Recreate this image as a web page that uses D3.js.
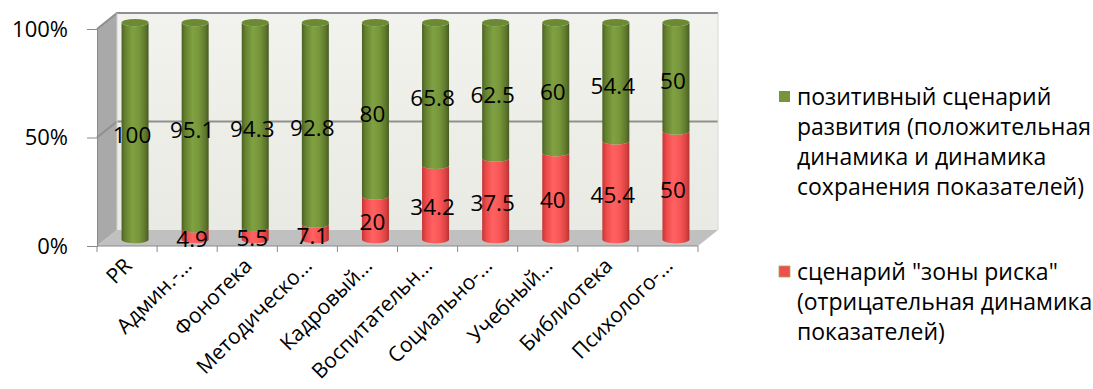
<!DOCTYPE html>
<html><head><meta charset="utf-8">
<script src="https://cdn.jsdelivr.net/npm/d3@7"></script>
<style>body{margin:0;background:#fff}svg{display:block}text{font-family:"Open Sans",sans-serif}</style>
</head><body><svg id="c" width="1093" height="389"></svg>
<script>
const categories = ["PR","Админ.-…","Фонотека","Методическо…","Кадровый…","Воспитательн…","Социально-…","Учебный…","Библиотека","Психолого-…"];
const positive = [100,95.1,94.3,92.8,80,65.8,62.5,60,54.4,50];
const risk = [0,4.9,5.5,7.1,20,34.2,37.5,40,45.4,50];
const yTicks = [0,50,100];
const seriesNames = ['позитивный сценарий развития (положительная динамика и динамика сохранения показателей)','сценарий "зоны риска" (отрицательная динамика показателей)'];
const legendLines = [["позитивный сценарий","развития (положительная","динамика и динамика","сохранения показателей)"],["сценарий \"зоны риска\"","(отрицательная динамика","показателей)"]];

const svg = d3.select("#c");
const defs = svg.append("defs");
const X0=97, X1=698, Y0=246, Y100=29, DX=20, DY=-16;
const x = d3.scaleBand().domain(categories).range([X0,X1]).paddingInner(0).paddingOuter(0);
const y = d3.scaleLinear().domain([0,100]).range([Y0,Y100]);

function hgrad(id, stops){
  const g=defs.append("linearGradient").attr("id",id).attr("x1","0%").attr("x2","100%").attr("y1","0%").attr("y2","0%");
  stops.forEach(s=>g.append("stop").attr("offset",s[0]).attr("stop-color",s[1]));
}
hgrad("gG",[["0%","#4B6024"],["12%","#637F2E"],["40%","#80A142"],["65%","#77963A"],["88%","#5D772C"],["100%","#475B22"]]);
hgrad("gR",[["0%","#C23636"],["15%","#EE4A4A"],["40%","#FF6262"],["65%","#F85656"],["88%","#DA4242"],["100%","#B83030"]]);
const wg=defs.append("linearGradient").attr("id","wall").attr("x1","0").attr("x2","0").attr("y1","0").attr("y2","1");
wg.append("stop").attr("offset","0%").attr("stop-color","#F2F2EE");
wg.append("stop").attr("offset","100%").attr("stop-color","#EAEAE4");

const P=(a)=>a.map(p=>p.join(",")).join(" ");
svg.append("polygon").attr("points",P([[X0+DX,Y100+DY],[X1+DX,Y100+DY],[X1+DX,Y0+DY],[X0+DX,Y0+DY]])).attr("fill","url(#wall)");
svg.append("polygon").attr("points",P([[X0,Y100],[X0+DX,Y100+DY],[X0+DX,Y0+DY],[X0,Y0]])).attr("fill","#A9A9A9");
svg.append("polygon").attr("points",P([[X0,Y0],[X1,Y0],[X1+DX,Y0+DY],[X0+DX,Y0+DY]])).attr("fill","#C0C0C0");
yTicks.forEach(t=>{
  if(t===0) return;
  svg.append("polyline").attr("points",P([[X0,y(t)],[X0+DX,y(t)+DY],[X1+DX,y(t)+DY]]))
    .attr("fill","none").attr("stroke","#8F8F8F").attr("stroke-width",2);
});
svg.append("line").attr("x1",X1+DX).attr("x2",X1+DX).attr("y1",Y100+DY).attr("y2",Y0+DY).attr("stroke","#D8D8D8");
svg.append("line").attr("x1",X0+DX).attr("x2",X0+DX).attr("y1",Y100+DY).attr("y2",Y0+DY).attr("stroke","#D0D0D0");

const yAxis = d3.axisLeft(y).tickValues(yTicks).tickFormat(d=>d+"%").tickSize(10).tickPadding(19);
const ya = svg.append("g").attr("transform",`translate(${X0},0)`).call(yAxis);
ya.select(".domain").attr("stroke","#8A8A8A");
ya.selectAll(".tick line").attr("stroke","#8A8A8A");
ya.selectAll("text").attr("font-size",22).attr("fill","#000").attr("font-family","Open Sans");

const xa = svg.append("g").attr("transform",`translate(0,${Y0})`);
xa.append("line").attr("x1",X0).attr("x2",X1).attr("stroke","#8A8A8A");
const bounds = categories.map(c=>x(c)).concat([X1]);
xa.selectAll("line.tk").data(bounds).enter().append("line").attr("class","tk")
  .attr("x1",d=>d).attr("x2",d=>d).attr("y1",0).attr("y2",6).attr("stroke","#8A8A8A");
xa.selectAll("text").data(categories).enter().append("text")
  .attr("transform",d=>`translate(${x(d)+x.bandwidth()/2+6},${21}) rotate(-45)`)
  .attr("text-anchor","end").attr("font-size",21).attr("fill","#000").text(d=>d);

const F=0.4, R=13.5, RY=3.6;
const cxOf=c=>x(c)+x.bandwidth()/2+DX*F;
const yOf=v=>y(v)+DY*F;
function seg(cx,yt,yb){
  return `M${cx-R},${yt} L${cx-R},${yb} A${R},${RY} 0 0 0 ${cx+R},${yb} L${cx+R},${yt} A${R},${RY} 0 0 1 ${cx-R},${yt} Z`;
}
const gBars = svg.append("g");
categories.forEach((c,i)=>{
  const tot = positive[i]+risk[i];
  const r = risk[i]/tot*100;
  const cx = cxOf(c);
  if(risk[i]>0){
    gBars.append("path").attr("d",seg(cx,yOf(r),yOf(0))).attr("fill","url(#gR)");
  }
  gBars.append("path").attr("d",seg(cx,yOf(100),yOf(r))).attr("fill","url(#gG)");
  gBars.append("ellipse").attr("cx",cx).attr("cy",yOf(100)).attr("rx",R).attr("ry",RY).attr("fill","#6B8A33");
});

const gL = svg.append("g").attr("font-size",22.5).attr("fill","#000").attr("text-anchor","middle");
categories.forEach((c,i)=>{
  const tot = positive[i]+risk[i];
  const r = risk[i]/tot*100;
  const lx = x(c)+x.bandwidth()/2+5;
  gL.append("text").attr("x",lx).attr("y",y(r+(100-r)/2)-2).attr("dy","0.35em").text(positive[i]);
  if(risk[i]>0) gL.append("text").attr("x",lx).attr("y",y(r/2)-2).attr("dy","0.35em").text(risk[i]);
});

const colors=["#77933C","#F04D4D"];
const lg = svg.append("g");
const starts=[97,272];
legendLines.forEach((lines,k)=>{
  lg.append("rect").attr("x",779).attr("y",starts[k]-6).attr("width",11).attr("height",11).attr("fill",colors[k]).attr("stroke",k?"#9BB060":"none").attr("stroke-width",0.8).append("title").text(seriesNames[k]);
  lines.forEach((t,j)=>lg.append("text").attr("x",797).attr("y",starts[k]+j*30).attr("dy","0.35em").attr("font-size",23).attr("fill","#000").text(t));
});
</script></body></html>
